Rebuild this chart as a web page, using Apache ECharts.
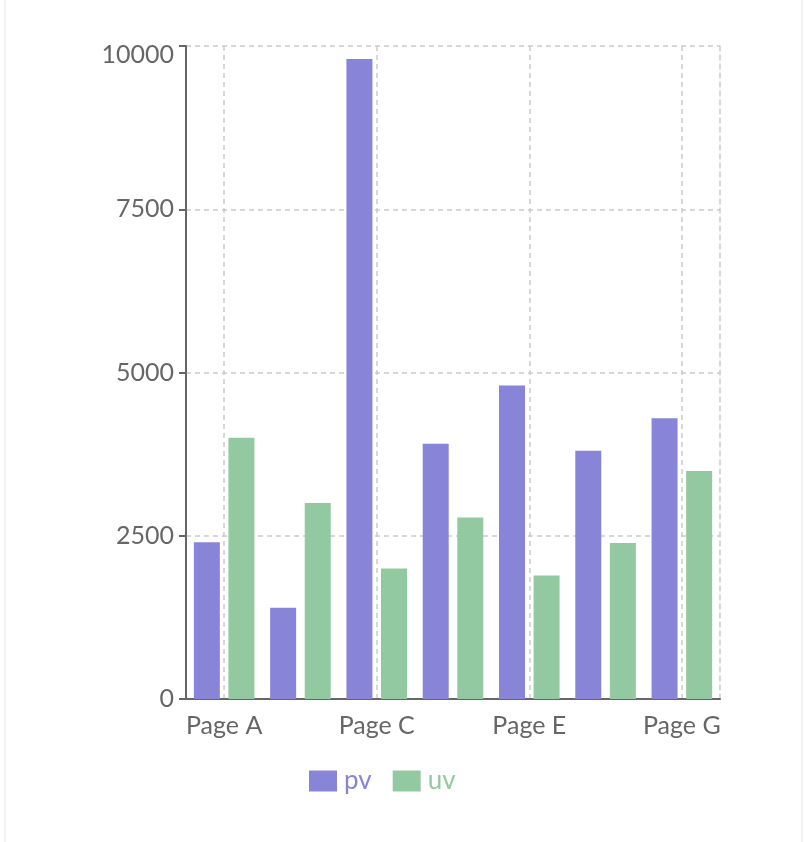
<!DOCTYPE html>
<html>
<head>
<meta charset="utf-8">
<script src="https://cdn.jsdelivr.net/npm/echarts@6/dist/echarts.min.js"></script>
<style>
  html, body { margin: 0; padding: 0; background: #fff; overflow: hidden; }
  #wrap {
    position: absolute; left: 4px; top: -2px; width: 799px; height: 860px;
    border: 2px solid #f3f3f3; box-sizing: border-box;
  }
  #main { position: absolute; left: 0; top: 0; width: 804px; height: 842px; }
</style>
</head>
<body>
<div id="wrap"></div>
<div id="main"></div>
<script>
const categories = ['Page A', 'Page B', 'Page C', 'Page D', 'Page E', 'Page F', 'Page G'];
const pvValues = [2400, 1398, 9800, 3908, 4800, 3800, 4300];
const uvValues = [4000, 3000, 2000, 2780, 1890, 2390, 3490];
const pvColor = '#8884d8';
const uvColor = '#93c9a0';

const labelFont = { color: '#666', fontFamily: 'Lato', fontSize: 25 };

const chart = echarts.init(document.getElementById('main'));
chart.setOption({
  animation: false,
  grid: { left: 186, right: 84, top: 46, bottom: 143, containLabel: false },
  legend: {
    left: 309, top: 768, padding: 0,
    itemWidth: 28, itemHeight: 21, itemGap: 21,
    icon: 'rect',
    textStyle: { fontFamily: 'Lato', fontSize: 26, padding: [0, 0, 0, 2] },
    data: [
      { name: 'pv', textStyle: { color: pvColor } },
      { name: 'uv', textStyle: { color: uvColor } }
    ]
  },
  xAxis: {
    type: 'category',
    data: categories,
    axisLine: { lineStyle: { color: '#666', width: 2 } },
    axisTick: { alignWithLabel: true, interval: 1, length: 7, lineStyle: { color: '#666', width: 2 } },
    axisLabel: Object.assign({ interval: 1, margin: 14 }, labelFont),
    splitLine: {
      show: true, interval: 1, alignWithLabel: true,
      lineStyle: { color: '#ccc', type: [5, 4], width: 1.5 }
    }
  },
  yAxis: [{
    type: 'value',
    min: 0, max: 10000, interval: 2500,
    axisLine: { show: true, lineStyle: { color: '#666', width: 2 } },
    axisTick: { show: true, length: 7, lineStyle: { color: '#666', width: 2 } },
    axisLabel: Object.assign({
      margin: 12,
      formatter: v => v === 10000 ? '{top|' + v + '}' : String(v),
      rich: { top: { fontFamily: 'Lato', fontSize: 25, color: '#666', padding: [18, 0, 0, 0] } }
    }, labelFont),
    splitLine: { lineStyle: { color: '#ccc', type: [5, 4], width: 1.5 } }
  }, {
    type: 'value',
    position: 'right',
    min: 0, max: 10000, interval: 2500,
    axisLine: { show: true, lineStyle: { color: '#ccc', type: [5, 4], width: 1.5 } },
    axisTick: { show: false },
    axisLabel: { show: false },
    splitLine: { show: false }
  }],
  series: [
    { name: 'pv', type: 'bar', data: pvValues, barWidth: 26, barGap: '33%', itemStyle: { color: pvColor } },
    { name: 'uv', type: 'bar', data: uvValues, barWidth: 26, itemStyle: { color: uvColor } }
  ]
});
</script>
</body>
</html>
